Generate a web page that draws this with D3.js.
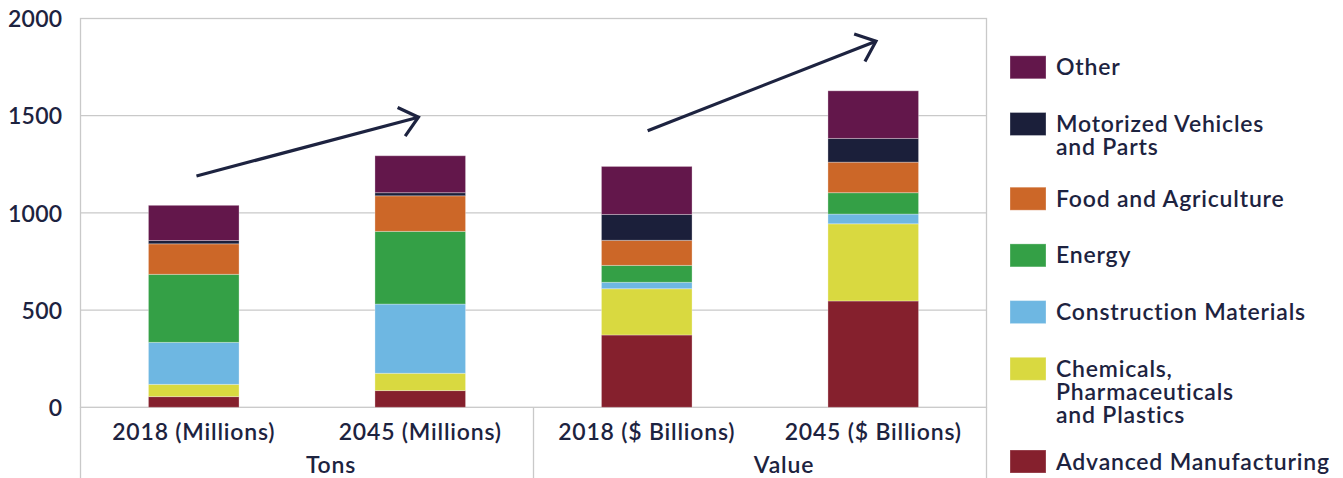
<!DOCTYPE html>
<html>
<head>
<meta charset="utf-8">
<script src="https://cdn.jsdelivr.net/npm/d3@7"></script>
<style>
  html, body { margin: 0; padding: 0; background: #fff; }
  svg { display: block; font-family: Lato, "Open Sans", sans-serif; }
</style>
</head>
<body>
<svg id="chart" width="1343" height="478"></svg>
<script>
// Freight tonnage and value by commodity group, 2018 vs 2045
const categories = ["2018 (Millions)", "2045 (Millions)", "2018 ($ Billions)", "2045 ($ Billions)"];
const groups = [
  { name: "Tons",  members: ["2018 (Millions)", "2045 (Millions)"] },
  { name: "Value", members: ["2018 ($ Billions)", "2045 ($ Billions)"] }
];
// stacking order, bottom to top
const seriesNames = [
  "Advanced Manufacturing",
  "Chemicals, Pharmaceuticals and Plastics",
  "Construction Materials",
  "Energy",
  "Food and Agriculture",
  "Motorized Vehicles and Parts",
  "Other"
];
const advancedManufacturing = [55, 86, 372, 547];
const chemicals             = [63, 89, 238, 397];
const constructionMaterials = [216, 356, 33, 50];
const energy                = [350, 374, 87, 110];
const foodAgriculture       = [157, 183, 129, 157];
const motorizedVehicles     = [17, 16, 133, 122];
const other                 = [181, 190, 247, 245];
const seriesValues = [advancedManufacturing, chemicals, constructionMaterials, energy,
                      foodAgriculture, motorizedVehicles, other];
const seriesColors = ["#85202d", "#d9d940", "#6eb7e2", "#34a046", "#cc6728", "#1b1f3a", "#63174b"];
const yTicks = [0, 500, 1000, 1500, 2000];

// legend, top to bottom, with wrapped lines
const legendItems = [
  { key: "Other", lines: ["Other"] },
  { key: "Motorized Vehicles and Parts", lines: ["Motorized Vehicles", "and Parts"] },
  { key: "Food and Agriculture", lines: ["Food and Agriculture"] },
  { key: "Energy", lines: ["Energy"] },
  { key: "Construction Materials", lines: ["Construction Materials"] },
  { key: "Chemicals, Pharmaceuticals and Plastics", lines: ["Chemicals,", "Pharmaceuticals", "and Plastics"] },
  { key: "Advanced Manufacturing", lines: ["Advanced Manufacturing"] }
];

// growth arrows: position given by category, fraction across the bar, and value
const growthArrows = [
  { from: { cat: "2018 (Millions)", frac: 0.53, v: 1190 },   to: { cat: "2045 (Millions)", frac: 0.48, v: 1492 } },
  { from: { cat: "2018 ($ Billions)", frac: 0.51, v: 1423 }, to: { cat: "2045 ($ Billions)", frac: 0.53, v: 1883 } }
];

const textColor = "#1d2340";
const gridColor = "#c9c9c9";
const fontSize = "23px";
const letterSpacing = "0.8px";

const svg = d3.select("#chart");
const plot = { left: 80.5, right: 986.5, top: 18.5, bottom: 407.3, axisBottom: 478 };

const x = d3.scaleBand().domain(categories).range([plot.left, plot.right])
  .paddingInner(0.6).paddingOuter(0.3);
const y = d3.scaleLinear().domain([0, 2000]).range([plot.bottom, plot.top]);

// stacked data
const rows = categories.map((c, i) => {
  const r = { category: c };
  seriesNames.forEach((s, j) => r[s] = seriesValues[j][i]);
  return r;
});
const stacked = d3.stack().keys(seriesNames)(rows);
const color = d3.scaleOrdinal().domain(seriesNames).range(seriesColors);

const styleText = sel => sel
  .attr("fill", textColor)
  .style("font-size", fontSize)
  .style("font-weight", 600)
  .style("letter-spacing", letterSpacing)
  .style("font-family", "Lato, sans-serif");

// gridlines
svg.append("g").selectAll("line").data(yTicks.filter(t => t > 0 && t < 2000)).join("line")
  .attr("x1", plot.left).attr("x2", plot.right)
  .attr("y1", d => y(d)).attr("y2", d => y(d))
  .attr("stroke", gridColor).attr("stroke-width", 1.3);

// plot frame
svg.append("rect")
  .attr("x", plot.left).attr("y", y(2000))
  .attr("width", plot.right - plot.left).attr("height", y(0) - y(2000))
  .attr("fill", "none").attr("stroke", gridColor).attr("stroke-width", 1.3);

// group dividers under the category axis
const dividers = [plot.left, ...groups.slice(0, -1).map((g, i) => {
  const lastMember = g.members[g.members.length - 1];
  const nextFirst = groups[i + 1].members[0];
  return (x(lastMember) + x.bandwidth() + x(nextFirst)) / 2;
}), plot.right];
svg.append("g").selectAll("line").data(dividers).join("line")
  .attr("x1", d => d).attr("x2", d => d)
  .attr("y1", y(0)).attr("y2", plot.axisBottom)
  .attr("stroke", gridColor).attr("stroke-width", 1.3);

// bars
svg.append("g").selectAll("g").data(stacked).join("g")
  .attr("fill", d => color(d.key))
  .selectAll("rect").data(d => d).join("rect")
  .attr("x", d => x(d.data.category))
  .attr("y", d => y(d[1]))
  .attr("width", x.bandwidth())
  .attr("height", d => y(d[0]) - y(d[1]))
  .attr("stroke", "rgba(255,255,255,0.3)").attr("stroke-width", 1);

// y axis labels
const yAxis = svg.append("g").attr("transform", `translate(${plot.left},0)`)
  .call(d3.axisLeft(y).tickValues(yTicks).tickFormat(d3.format("d")).tickSize(0).tickPadding(18));
yAxis.select(".domain").remove();
yAxis.selectAll("text").call(styleText).style("letter-spacing", "0.3px").attr("dy", "0.36em");

// category labels
const xAxis = svg.append("g").attr("transform", `translate(0,${y(0)})`)
  .call(d3.axisBottom(x).tickSize(0).tickPadding(16));
xAxis.select(".domain").remove();
xAxis.selectAll("text").call(styleText);

// group labels
const groupShift = 24;
svg.append("g").selectAll("text").data(groups).join("text")
  .attr("x", g => {
    const a = x(g.members[0]), b = x(g.members[g.members.length - 1]) + x.bandwidth();
    return (a + b) / 2 + groupShift;
  })
  .attr("y", 473)
  .attr("text-anchor", "middle")
  .call(styleText)
  .text(g => g.name);

// growth arrows
const px = p => x(p.cat) + p.frac * x.bandwidth();
const arrowG = svg.append("g").attr("fill", "none").attr("stroke", textColor)
  .attr("stroke-width", 3.2).attr("stroke-linecap", "butt");
growthArrows.forEach(a => {
  const x1 = px(a.from), y1 = y(a.from.v), x2 = px(a.to), y2 = y(a.to.v);
  arrowG.append("line").attr("x1", x1).attr("y1", y1).attr("x2", x2).attr("y2", y2);
  const back = Math.atan2(y1 - y2, x1 - x2);
  const len = 23, spread = 40 * Math.PI / 180;
  const p1 = [x2 + len * Math.cos(back + spread), y2 + len * Math.sin(back + spread)];
  const p2 = [x2 + len * Math.cos(back - spread), y2 + len * Math.sin(back - spread)];
  arrowG.append("path").attr("d", d3.line()([p1, [x2, y2], p2]))
    .attr("stroke-linejoin", "miter");
});

// legend
const legend = { swatchX: 1010, swatchW: 36, swatchH: 23, textX: 1056, firstY: 67.3, step: 56.7, extraPerLine: 18, lineH: 23 };
let extra = 0;
legendItems.forEach((item, i) => {
  const cy = legend.firstY + i * legend.step + extra * legend.extraPerLine;
  extra += item.lines.length - 1;
  const g = svg.append("g");
  g.append("rect")
    .attr("x", legend.swatchX).attr("y", cy - legend.swatchH / 2)
    .attr("width", legend.swatchW).attr("height", legend.swatchH)
    .attr("fill", color(item.key))
    .attr("stroke", "rgba(255,255,255,0.3)").attr("stroke-width", 1);
  item.lines.forEach((ln, k) => {
    g.append("text").attr("x", legend.textX).attr("y", cy + 8 + k * legend.lineH)
      .call(styleText).text(ln);
  });
});
</script>
</body>
</html>
